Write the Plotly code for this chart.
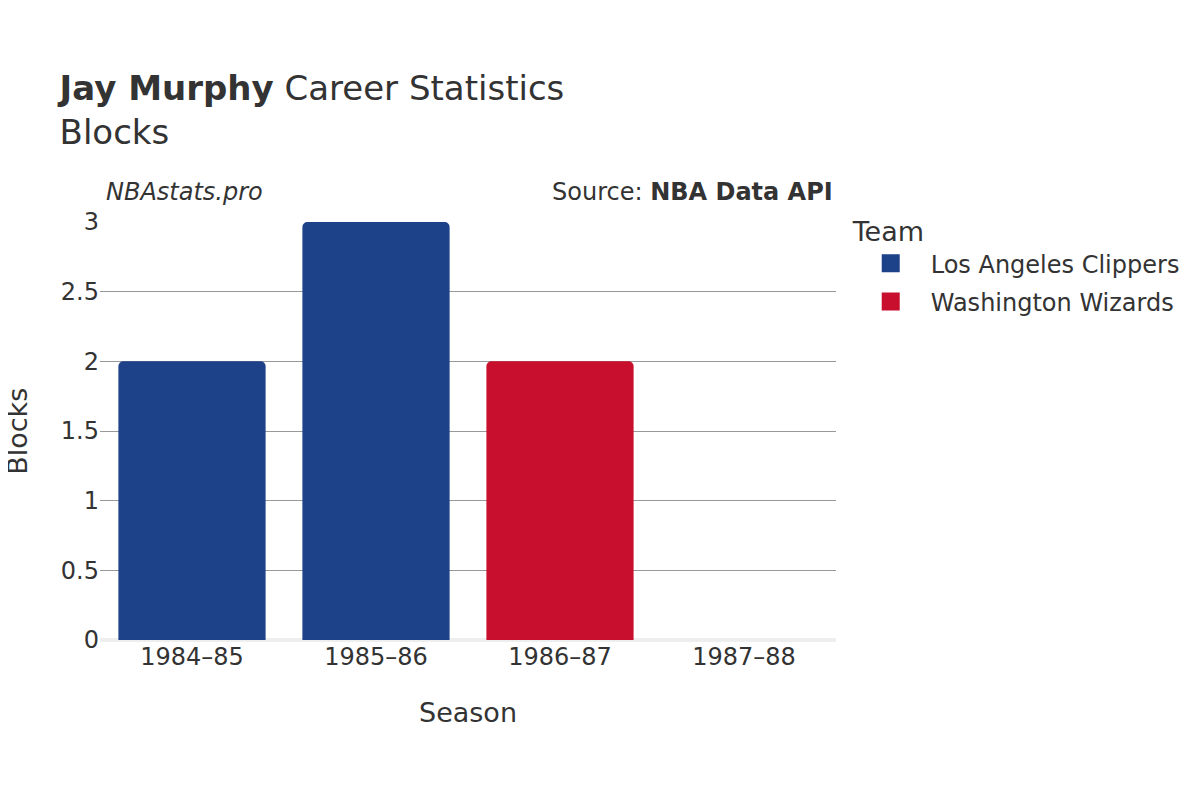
import plotly.graph_objects as go

seasons = ["1984–85", "1985–86", "1986–87", "1987–88"]
teams = ["Los Angeles Clippers", "Los Angeles Clippers", "Washington Wizards", "Washington Wizards"]
blocks = [2, 3, 2, 0]
team_names = ["Los Angeles Clippers", "Washington Wizards"]
team_colors = {"Los Angeles Clippers": "#1D428A", "Washington Wizards": "#C8102E"}

fig = go.Figure()
for t in team_names:
    xs = [s for s, tm in zip(seasons, teams) if tm == t]
    ys = [b for b, tm in zip(blocks, teams) if tm == t]
    fig.add_trace(go.Bar(x=xs, y=ys, name=t, marker_color=team_colors[t],
                         marker_line_width=0, showlegend=False, legendgroup=t))
    # legend-only entry with a larger swatch
    fig.add_trace(go.Scatter(x=[None], y=[None], mode="markers", name=t,
                             legendgroup=t,
                             marker=dict(symbol="square", size=20, color=team_colors[t],
                                         line=dict(width=2, color=team_colors[t]))))

fig.update_layout(
    width=1200, height=800,
    font=dict(family="DejaVu Sans", size=24, color="#333"),
    barmode="overlay",
    bargap=0.2,
    barcornerradius=5,
    plot_bgcolor="white", paper_bgcolor="white",
    margin=dict(l=92, r=372, t=214, b=168, autoexpand=False),
    title=dict(
        text="<b>Jay Murphy</b> Career Statistics<br>Blocks",
        x=0.043, xanchor="left", xref="container",
        y=0.885, yanchor="top", yref="container",
        font=dict(size=34, color="#333"),
    ),
    legend=dict(
        title=dict(text="Team", font=dict(size=27)),
        x=1.02, xanchor="left", y=1.038, yanchor="top",
        font=dict(size=24),
        itemwidth=70,
        tracegroupgap=4,
        traceorder="grouped",
    ),
    xaxis=dict(
        title=dict(text="Season", font=dict(size=27), standoff=33),
        categoryorder="array", categoryarray=seasons,
        showgrid=False, ticks="", showline=False, automargin=False,
    ),
    yaxis=dict(
        range=[0, 3], dtick=0.5,
        showgrid=True, gridcolor="#999", gridwidth=1,
        zeroline=True, zerolinecolor="#eee", zerolinewidth=4,
        ticks="", showline=False, automargin=False,
    ),
    annotations=[
        dict(text="<i>NBAstats.pro</i>", xref="paper", yref="paper",
             x=0.005, y=1.072, xanchor="left", yanchor="middle",
             showarrow=False, font=dict(size=24, color="#333")),
        dict(text="Source: <b>NBA Data API</b>", xref="paper", yref="paper",
             x=0.999, y=1.072, xanchor="right", yanchor="middle",
             showarrow=False, font=dict(size=24, color="#333")),
        dict(text="Blocks", xref="paper", yref="paper",
             x=-0.113, y=0.5, xanchor="center", yanchor="middle",
             textangle=-90, showarrow=False, font=dict(size=27, color="#333")),
    ],
)

fig.write_html("out.html")
